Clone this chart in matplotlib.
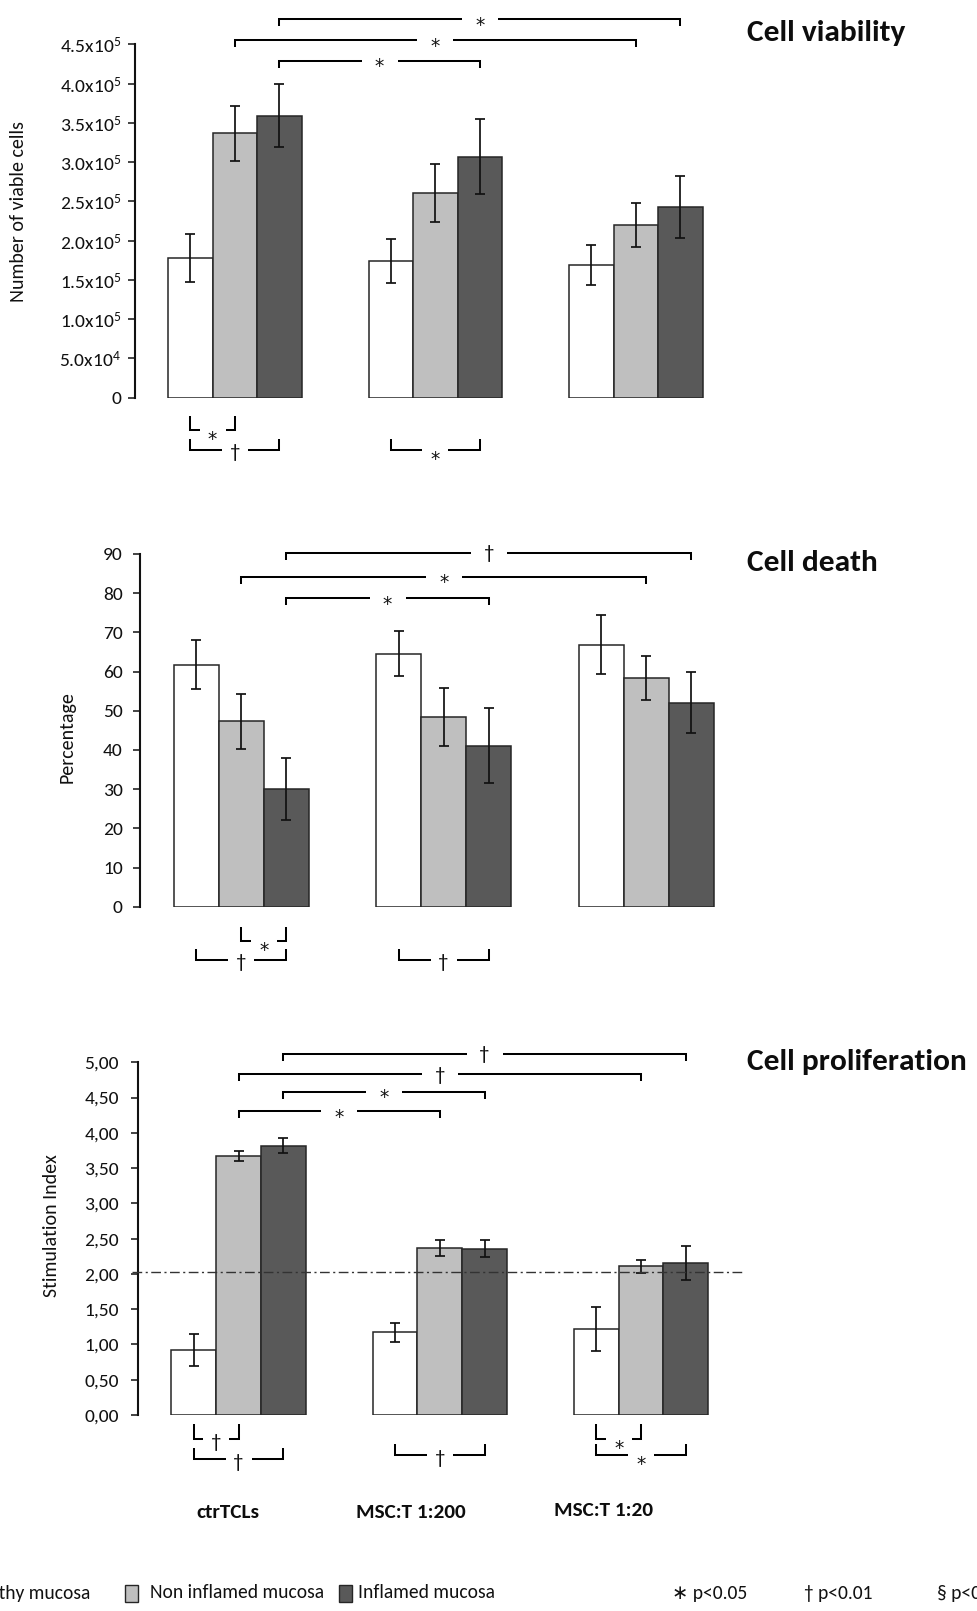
import matplotlib
matplotlib.use("Agg")
import matplotlib.pyplot as plt
from matplotlib import font_manager
from matplotlib.patches import Rectangle
import numpy as np

# ---------------- data ----------------
groups = ["ctrTCLs", "MSC:T 1:200", "MSC:T 1:20"]
series = ["Healthy mucosa", "Non inflamed mucosa", "Inflamed mucosa"]

viab_mean = [[1.78e5, 3.37e5, 3.59e5],
             [1.74e5, 2.61e5, 3.07e5],
             [1.69e5, 2.20e5, 2.43e5]]
viab_err = [[0.305e5, 0.35e5, 0.40e5],
            [0.28e5, 0.37e5, 0.48e5],
            [0.25e5, 0.28e5, 0.395e5]]

death_mean = [[61.8, 47.3, 30.0],
              [64.6, 48.5, 41.1],
              [66.9, 58.4, 52.1]]
death_err = [[6.2, 7.0, 8.0],
             [5.7, 7.4, 9.5],
             [7.5, 5.6, 7.9]]

prol_mean = [[0.92, 3.67, 3.82],
             [1.17, 2.37, 2.36],
             [1.22, 2.11, 2.15]]
prol_err = [[0.23, 0.07, 0.10],
            [0.13, 0.11, 0.12],
            [0.31, 0.09, 0.24]]
prol_threshold = 2.03

viab_ticks = [0, 0.5e5, 1.0e5, 1.5e5, 2.0e5, 2.5e5, 3.0e5, 3.5e5, 4.0e5, 4.5e5]
viab_ticklabels = ["0", r"5.0x10$^{4}$", r"1.0x10$^{5}$", r"1.5x10$^{5}$", r"2.0x10$^{5}$",
                   r"2.5x10$^{5}$", r"3.0x10$^{5}$", r"3.5x10$^{5}$", r"4.0x10$^{5}$", r"4.5x10$^{5}$"]
death_ticks = [0, 10, 20, 30, 40, 50, 60, 70, 80, 90]
death_ticklabels = [str(t) for t in death_ticks]
prol_ticks = [0, 0.5, 1.0, 1.5, 2.0, 2.5, 3.0, 3.5, 4.0, 4.5, 5.0]
prol_ticklabels = ["0,00", "0,50", "1,00", "1,50", "2,00", "2,50", "3,00", "3,50", "4,00", "4,50", "5,00"]

# significance brackets: (group_a, bar_a, group_b, bar_b, symbol, level)
viab_top = [(0, 2, 2, 2, "*", 4.82e5), (0, 1, 2, 1, "*", 4.555e5), (0, 2, 1, 2, "*", 4.29e5)]
viab_bot = [(0, 0, 1, "*", -0.41e5, 14), (0, 0, 2, "\u2020", -0.666e5, 11), (1, 0, 2, "*", -0.666e5, 11)]
death_top = [(0, 2, 2, 2, "\u2020", 90.3), (0, 1, 2, 1, "*", 84.2), (0, 2, 1, 2, "*", 78.7)]
death_bot = [(0, 1, 2, "*", -8.7, 14), (0, 0, 2, "\u2020", -13.6, 11), (1, 0, 2, "\u2020", -13.6, 11)]
prol_top = [(0, 2, 2, 2, "\u2020", 5.122), (0, 1, 2, 1, "\u2020", 4.83),
            (0, 2, 1, 2, "*", 4.583), (0, 1, 1, 1, "*", 4.305)]
prol_bot = [(0, 0, 1, "\u2020", -0.344, 15), (0, 0, 2, "\u2020", -0.628, 11), (1, 0, 2, "\u2020", -0.571, 11),
            (2, 0, 1, "*", -0.336, 15), (2, 0, 2, "*", -0.571, 11)]

# ---------------- style ----------------
W, H = 977, 1611
avail = {f.name for f in font_manager.fontManager.ttflist}


def pick(cands):
    for c in cands:
        if c in avail:
            return c
    return "DejaVu Sans"


MAIN = pick(["Carlito", "Lato", "Open Sans"])
NARROW = pick(["Liberation Sans Narrow", "Carlito", "Lato"])

plt.rcParams["font.family"] = [MAIN, "DejaVu Sans"]
plt.rcParams["mathtext.fontset"] = "custom"
plt.rcParams["mathtext.rm"] = MAIN
plt.rcParams["mathtext.it"] = MAIN
plt.rcParams["mathtext.bf"] = MAIN + ":bold"

colors = ["#ffffff", "#bfbfbf", "#595959"]
edge = "#262626"

fig = plt.figure(figsize=(W / 100, H / 100), dpi=100)
renderer = fig.canvas.get_renderer()


def fx(px):
    return px / W


def fy(py):
    return 1 - py / H


def fit(txt, target, vertical=False):
    bb = txt.get_window_extent(renderer=renderer)
    cur = bb.height if vertical else bb.width
    txt.set_fontsize(txt.get_fontsize() * target / cur)
    return txt.get_fontsize()


XR = 745
panels = [
    dict(L=135, c0=234.85, sp=200.5, w=44.5, y0=397.7, yt=44.3, ymax=4.5e5, pad=5,
         mean=viab_mean, err=viab_err, ticks=viab_ticks, tl=viab_ticklabels, top=viab_top, bot=viab_bot),
    dict(L=140, c0=241.2, sp=202.5, w=45.1, y0=906.7, yt=554, ymax=90, pad=7.5,
         mean=death_mean, err=death_err, ticks=death_ticks, tl=death_ticklabels, top=death_top, bot=death_bot),
    dict(L=137.7, c0=238.5, sp=201.3, w=44.7, y0=1415, yt=1062.3, ymax=5, pad=8.5,
         mean=prol_mean, err=prol_err, ticks=prol_ticks, tl=prol_ticklabels, top=prol_top, bot=prol_bot),
]

LW_BR = 1.45
SYM_SIZE = {"*": 13.5, "\u2020": 15}
SYM_FAMILY = {"*": ["DejaVu Sans"], "\u2020": [MAIN, "DejaVu Sans"]}


def sym_offset(sym, top):
    # vertical offset (points) from bracket line down to the symbol baseline
    if sym == "*":
        return 8.3 if top else 10.8
    return 4.5 if top else 6.0


axes = []
for P in panels:
    ax = fig.add_axes([fx(P["L"]), fy(P["y0"]), (XR - P["L"]) / W, (P["y0"] - P["yt"]) / H])
    ax.set_xlim(P["L"], XR)
    ax.set_ylim(0, P["ymax"])
    for s in ["top", "right", "bottom"]:
        ax.spines[s].set_visible(False)
    ax.spines["left"].set_linewidth(1.5)
    ax.spines["left"].set_color("#111111")
    ax.tick_params(axis="x", bottom=False, labelbottom=False)
    ax.tick_params(axis="y", direction="out", length=5, width=1.1, color="#111111",
                   labelsize=14, pad=P["pad"], labelcolor="#111111")
    ax.set_yticks(P["ticks"])
    ax.set_yticklabels(P["tl"])
    ax.patch.set_alpha(0)

    mean = np.array(P["mean"])
    err = np.array(P["err"])
    gx = np.arange(len(groups))

    def xpos(g, k, P=P):
        return P["c0"] + g * P["sp"] + (k - 1) * P["w"]

    for k in range(3):
        xs = [xpos(g, k) for g in gx]
        ax.bar(xs, mean[:, k], width=P["w"], color=colors[k], edgecolor=edge, linewidth=1.1,
               yerr=err[:, k], zorder=2, label=series[k],
               error_kw=dict(ecolor="#111111", elinewidth=1.25, capsize=3.3, capthick=1.25, zorder=3))

    u = P["ymax"] / (P["y0"] - P["yt"])  # data units per pixel
    for (ga, ka, gb, kb, sym, lev) in P["top"]:
        xa, xb = xpos(ga, ka), xpos(gb, kb)
        xm = (xa + xb) / 2
        gap = 18
        t = 7 * u
        ax.plot([xa, xa, xm - gap], [lev - t, lev, lev], color="black", lw=LW_BR, clip_on=False,
                solid_joinstyle="miter", solid_capstyle="butt")
        ax.plot([xm + gap, xb, xb], [lev, lev, lev - t], color="black", lw=LW_BR, clip_on=False,
                solid_joinstyle="miter", solid_capstyle="butt")
        ax.annotate(sym, (xm, lev), xytext=(0, -sym_offset(sym, True)), textcoords="offset points",
                    ha="center", va="baseline", fontsize=SYM_SIZE[sym], family=SYM_FAMILY[sym],
                    color="#111111", annotation_clip=False)
    for (g, ka, kb, sym, lev, tpx) in P["bot"]:
        xa, xb = xpos(g, ka), xpos(g, kb)
        xm = (xa + xb) / 2
        gap = 13
        t = tpx * u
        ax.plot([xa, xa, xm - gap], [lev + t, lev, lev], color="black", lw=LW_BR, clip_on=False,
                solid_joinstyle="miter", solid_capstyle="butt")
        ax.plot([xm + gap, xb, xb], [lev, lev, lev + t], color="black", lw=LW_BR, clip_on=False,
                solid_joinstyle="miter", solid_capstyle="butt")
        ax.annotate(sym, (xm, lev), xytext=(0, -sym_offset(sym, False)), textcoords="offset points",
                    ha="center", va="baseline", fontsize=SYM_SIZE[sym], family=SYM_FAMILY[sym],
                    color="#111111", annotation_clip=False)
    axes.append(ax)

# threshold line on proliferation panel
ax3 = axes[2]
ax3.plot([panels[2]["L"] - 6, XR - 3], [prol_threshold, prol_threshold], color="#333333", lw=1.0,
         linestyle=(0, (7, 2.5, 1.5, 2.5)), clip_on=False, zorder=4)

# y labels
ylabels = ["Number of viable cells", "Percentage", "Stimulation Index"]
ylab_pos = [(18.3, 211.7), (66.7, 737.5), (51.7, 1225.8)]
yl = []
for lab, (x, y) in zip(ylabels, ylab_pos):
    yl.append(fig.text(fx(x), fy(y), lab, rotation=90, ha="center", va="center",
                       fontsize=12, color="#111111"))
s = fit(yl[0], 180, vertical=True)
for t in yl[1:]:
    t.set_fontsize(s)

# panel titles
titles = ["Cell viability", "Cell death", "Cell proliferation"]
title_pos = [(747, 33), (746.7, 562.7), (747.3, 1061.7)]
tt = []
for lab, (x, y) in zip(titles, title_pos):
    tt.append(fig.text(fx(x), fy(y), lab, ha="left", va="center", fontsize=20,
                       fontweight="bold", color="#0d0d0d"))
s = fit(tt[2], 220)
for t in tt[:2]:
    t.set_fontsize(s)

# category labels
cat_pos = [(228.3, 1513), (411, 1512), (603.3, 1510)]
cl = []
for lab, (x, y) in zip(groups, cat_pos):
    cl.append(fig.text(fx(x), fy(y), lab, ha="center", va="center", fontsize=14,
                       fontweight="bold", family=[NARROW, "DejaVu Sans"], color="#0d0d0d"))
s = fit(cl[1], 110)
for t in cl:
    t.set_fontsize(s)

# legend
LEG_Y = 1593
lt = []
lt.append(fig.text(fx(90), fy(LEG_Y), series[0], ha="right", va="center", fontsize=14, color="#111111"))
lt.append(fig.text(fx(150), fy(LEG_Y), series[1], ha="left", va="center", fontsize=14, color="#111111"))
lt.append(fig.text(fx(358), fy(LEG_Y), series[2], ha="left", va="center", fontsize=14, color="#111111"))
lt.append(fig.text(fx(671.7), fy(LEG_Y), "\u2217 p<0.05", ha="left", va="center", fontsize=14, color="#111111"))
lt.append(fig.text(fx(804), fy(LEG_Y), "\u2020 p<0.01", ha="left", va="center", fontsize=14, color="#111111"))
lt.append(fig.text(fx(936.7), fy(LEG_Y), "\u00a7 p<0.001", ha="left", va="center", fontsize=14, color="#111111"))
s = fit(lt[1], 175)
for t in lt:
    t.set_fontsize(s)

for (x0, x1, c) in [(125, 138, colors[1]), (339, 352, colors[2])]:
    fig.patches.append(Rectangle((fx(x0), fy(1602)), (x1 - x0) / W, 17 / H, transform=fig.transFigure,
                                 facecolor=c, edgecolor=edge, linewidth=1.0))

fig.savefig("out.png", dpi=100)
